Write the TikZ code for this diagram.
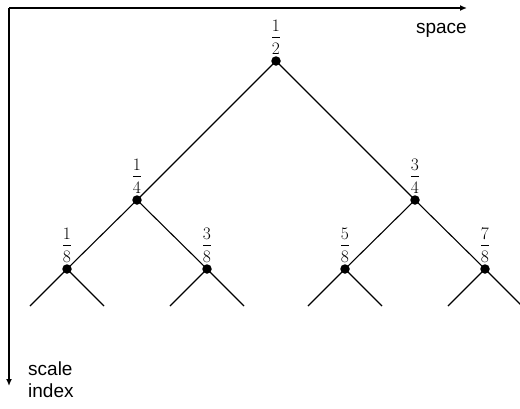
\documentclass[tikz,border=0pt]{standalone}
\usepackage{fontspec}
\setsansfont{Liberation Sans}
\usetikzlibrary{arrows.meta,calc}
\begin{document}
\begin{tikzpicture}[x=1pt,y=-1pt,
  dot/.style={circle,fill=black,inner sep=0pt,minimum size=9.5pt},
  digit/.style={inner sep=0pt,anchor=base},
  fracbar/.style={line width=1.2pt},
  axis/.style={line width=1.8pt,-{Latex[length=7pt,width=6pt]}},
  edge/.style={line width=1.1pt},
  lab/.style={font=\sffamily\fontsize{19}{21}\selectfont,inner sep=0pt}]
\useasboundingbox (0,0) rectangle (520,408);
\coordinate (o) at (9,8);
\coordinate (xe) at (467,8);
\coordinate (ye) at (9,386);
\draw[axis] (o) -- (xe);
\draw[axis] (o) -- (ye);
\node[lab,anchor=base east] (space) at (467,33) {space};
\node[lab,anchor=base west] (scale) at (28,375) {scale};
\node[lab,anchor=base west] (index) at (28,397) {index};
% tree nodes
\node[dot] (n12) at (276,61) {};
\node[dot] (n14) at (137,200) {};
\node[dot] (n34) at (415,200) {};
\node[dot] (n18) at (67,269) {};
\node[dot] (n38) at (207,269) {};
\node[dot] (n58) at (345,269) {};
\node[dot] (n78) at (485,269) {};
% fraction labels
\foreach \n/\a/\b in {12/1/2,14/1/4,34/3/4,18/1/8,38/3/8,58/5/8,78/7/8}{
  \node[digit] (t\n) at ($(n\n)+(0,-29.5)$) {\fontsize{17.5}{20}\selectfont\a};
  \node[digit] (d\n) at ($(n\n)+(0,-6.5)$) {\fontsize{17.5}{20}\selectfont\b};
  \draw[fracbar] ($(n\n)+(-3.8,-23.5)$) -- ($(n\n)+(3.8,-23.5)$);
}
% leaf ends
\foreach \n/\x in {18/67,38/207,58/345,78/485}{
  \coordinate (a\n) at (\x-37,306);
  \coordinate (b\n) at (\x+37,306);
}
\draw[edge] (n12.center) -- (n14.center);
\draw[edge] (n12.center) -- (n34.center);
\draw[edge] (n14.center) -- (n18.center);
\draw[edge] (n14.center) -- (n38.center);
\draw[edge] (n34.center) -- (n58.center);
\draw[edge] (n34.center) -- (n78.center);
\foreach \n in {18,38,58,78}{
  \draw[edge] (n\n.center) -- (a\n);
  \draw[edge] (n\n.center) -- (b\n);
}
\end{tikzpicture}
\end{document}
